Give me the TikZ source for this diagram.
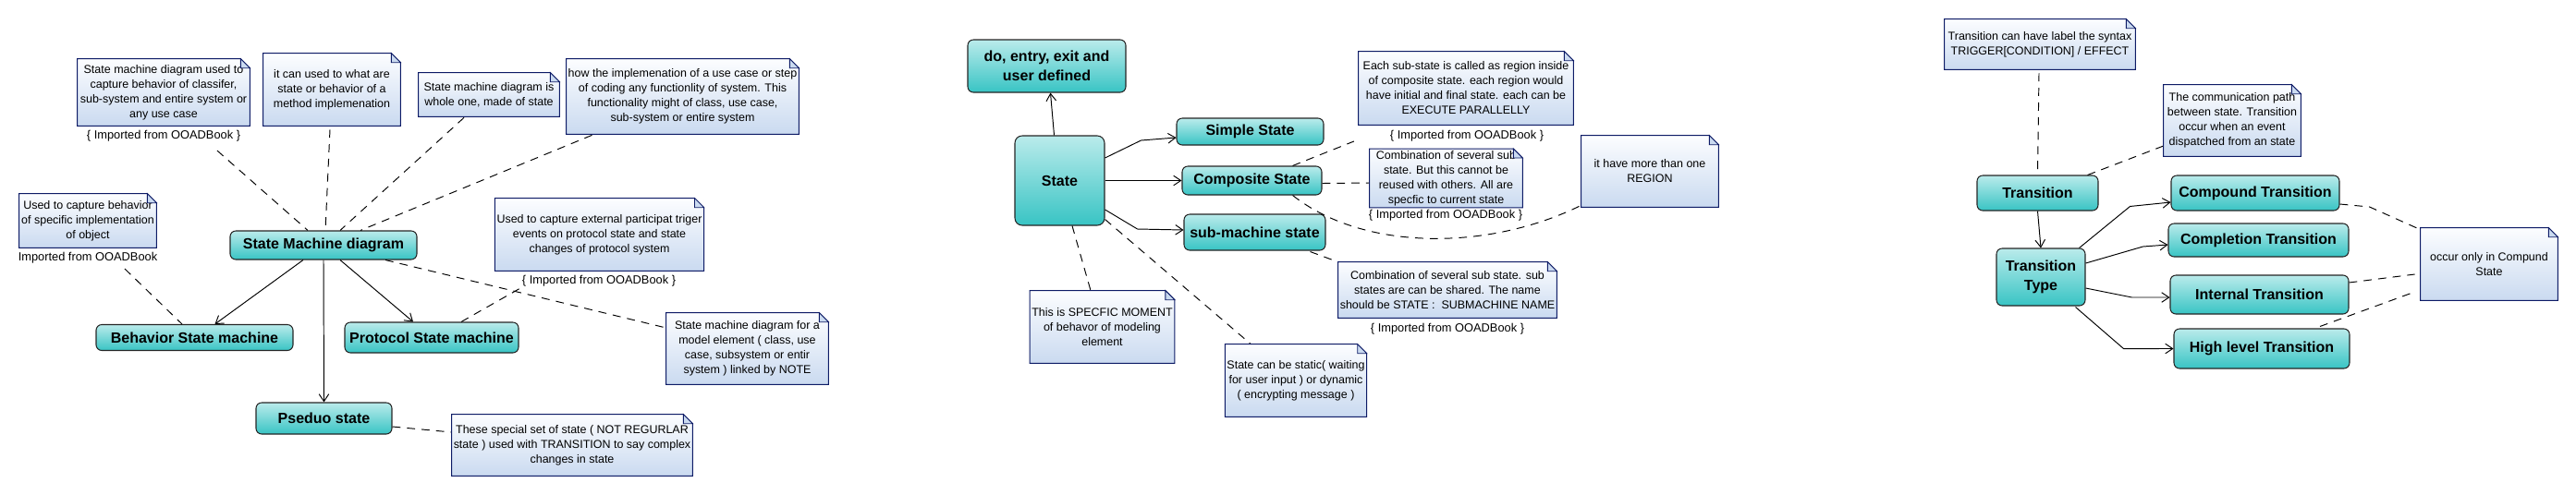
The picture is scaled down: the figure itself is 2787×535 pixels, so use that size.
\documentclass[tikz,border=0pt]{standalone}
\usepackage{fontspec}
\setmainfont{Liberation Sans}
\usetikzlibrary{arrows.meta, calc}

\definecolor{stateTop}{HTML}{BAEBEB}
\definecolor{stateBot}{HTML}{38C4C4}
\definecolor{noteTop}{HTML}{FCFDFF}
\definecolor{noteBot}{HTML}{CADAF0}
\definecolor{noteLine}{HTML}{0D1B66}

\begin{document}
\begin{tikzpicture}[x=0.02cm, y=-0.02cm,
	wh/.style 2 args={minimum width=#1*0.02cm, minimum height=#2*0.02cm},
	statebox/.style={rectangle, rounded corners=3.5pt, draw=black!85, line width=0.6pt, top color=stateTop, bottom color=stateBot, align=center, inner sep=1pt, font=\bfseries\fontsize{9.1}{12}\selectfont},
	notebox/.style={rectangle, top color=noteTop, bottom color=noteBot, align=center, inner sep=1pt, font=\fontsize{7.1}{9.1}\selectfont},
	noteedge/.style={draw=noteLine, line width=0.55pt},
	importlabel/.style={inner sep=1pt, font=\fontsize{7.3}{8.8}\selectfont},
	genarrow/.style={-{Straight Barb[length=4.5pt, width=6pt]}, line width=0.55pt},
	notelink/.style={line width=0.55pt, dash pattern=on 5pt off 4pt}]
	\useasboundingbox (0,0) rectangle (2787,535);
	
	%state machine diagram
	\node[statebox, wh={202}{31}] (smd) at (350,265.5) {State Machine diagram};
	\node[statebox, wh={213}{28}] (behav) at (210.5,365.5) {Behavior State machine};
	\node[statebox, wh={188}{33}] (proto) at (467,365.5) {Protocol State machine};
	\node[statebox, wh={147}{34}] (pseudo) at (350.5,453) {Pseduo state};
	
	\draw[genarrow] ($(smd.south)+(-22,0)$) -- ($(behav.north)+(22,0)$);
	\draw[genarrow] ($(smd.south)+(18,0)$) -- ($(proto.north)+(-20,0)$);
	\draw[genarrow] (smd.south) -- (pseudo.north);
	
	%notes round the diagram
	\node[notebox, wh={186}{72}] (n1) at (177,100) {State machine diagram used to\\capture behavior of classifer,\\sub-system and entire system or\\any use case};
	\node[importlabel] (l1) at (177,147) {\{ Imported from OOADBook \}};
	\node[notebox, wh={148}{78}] (n2) at (359,97) {it can used to what are\\state or behavior of a\\method implemenation};
	\node[notebox, wh={152}{47}] (n3) at (529,102.5) {State machine diagram is\\whole one, made of state};
	\node[notebox, wh={251}{81}] (n4) at (738.5,104.5) {how the implemenation of a use case or step\\of coding any functionlity of system. This\\functionality might of class, use case,\\sub-system or entire system};
	\node[notebox, wh={148}{58}] (n5) at (95,239) {Used to capture behavior\\of specific implementation\\of object};
	\node[importlabel] (l5) at (95,279) {Imported from OOADBook};
	\node[notebox, wh={221}{78}] (n6) at (648.5,254) {Used to capture external participat triger\\events on protocol state and state\\changes of protocol system};
	\node[importlabel] (l6) at (648,304) {\{ Imported from OOADBook \}};
	\node[notebox, wh={175}{77}] (n7) at (808.5,377.5) {State machine diagram for a\\model element ( class, use\\case, subsystem or entir\\system ) linked by NOTE};
	\node[notebox, wh={254}{66}] (n8) at (619,482) {These special set of state ( NOT REGURLAR\\state ) used with TRANSITION to say complex\\changes in state};
	
	\draw[notelink] ($(l1.south)+(58,8)$) -- ($(smd.north)+(-17,0)$);
	\draw[notelink] ($(n2.south)+(-2,4)$) -- ($(smd.north)+(2,0)$);
	\draw[notelink] ($(n3.south)+(-27,1)$) -- ($(smd.north)+(18,0)$);
	\draw[notelink] ($(n4.south)+(-98,1)$) -- ($(smd.north)+(40,0)$);
	\draw[notelink] ($(l5.south)+(40,4)$) -- ($(behav.north)+(-13.5,0)$);
	\draw[notelink] ($(smd.south)+(67,0)$) -- ($(n7.west)+(0,-22.5)$);
	\draw[notelink] ($(proto.north)+(32,0)$) -- (l6.south west);
	\draw[notelink] ($(pseudo.east)+(0,9)$) -- ($(n8.west)+(0,-14)$);
	
	%state and its kinds
	\node[statebox, wh={171}{57}] (doent) at (1132.5,71.5) {do, entry, exit and\\user defined};
	\node[statebox, wh={97}{97}, rounded corners=4.5pt] (state) at (1146.5,195.5) {State};
	\node[statebox, wh={159}{29}] (simple) at (1352.5,142.5) {Simple State};
	\node[statebox, wh={151}{31}] (comp) at (1354.5,195.5) {Composite State};
	\node[statebox, wh={153}{39}] (submach) at (1357.5,251.5) {sub-machine state};
	
	\draw[genarrow] ($(state.north)+(-6,0)$) -- ($(doent.south)+(4,0)$);
	\draw[genarrow] ($(state.east)+(0,-24.5)$) -- ++(39,-19) -- ($(simple.west)+(0,6.5)$);
	\draw[genarrow] (state.east) -- (comp.west);
	\draw[genarrow] ($(state.east)+(0,31.5)$) -- ++(35,21) -- ($(submach.west)+(0,-2.5)$);
	
	\node[notebox, wh={232}{79}] (n9) at (1586,95.5) {Each sub-state is called as region inside\\of composite state. each region would\\have initial and final state. each can be\\EXECUTE PARALLELLY};
	\node[importlabel] (l9) at (1587,147) {\{ Imported from OOADBook \}};
	\node[notebox, wh={165}{58}] (n10) at (1564.5,193) {Combination of several sub\\state. But this cannot be\\reused with others. All are\\specfic to current state};
	\node[importlabel] (l10) at (1564,233) {\{ Imported from OOADBook \}};
	\node[notebox, wh={148}{77}] (n11) at (1785,185.5) {it have more than one\\REGION};
	\node[notebox, wh={226}{60}] (n12) at (1566,314) {Combination of several sub state. sub\\states are can be shared. The name\\should be STATE :\ \ SUBMACHINE NAME};
	\node[importlabel] (l12) at (1566,356) {\{ Imported from OOADBook \}};
	\node[notebox, wh={149}{78}] (n13) at (1192.5,354) {This is SPECFIC MOMENT\\of behavor of modeling\\element};
	\node[notebox, wh={148}{78}] (n14) at (1402,412) {State can be static( waiting\\for user input ) or dynamic\\( encrypting message )};
	
	\draw[notelink] ($(comp.north east)+(-32,0)$) -- ($(l9.west)+(-37,6)$);
	\draw[notelink] ($(comp.east)+(0,3)$) -- ($(n10.west)+(0,5)$);
	\draw[notelink] ($(comp.south east)+(-32,0)$) .. controls (1475,272) and (1610,272) .. ($(n11.south west)+(0,-2)$);
	\draw[notelink] ($(submach.south east)+(-17,1)$) -- (n12.north west);
	\draw[notelink] ($(state.south)+(13.5,0)$) -- ($(n13.north)+(-12.5,0)$);
	\draw[notelink] ($(state.south east)+(0,-7)$) -- ($(n14.north west)+(28,0)$);
	
	%transitions
	\node[notebox, wh={206}{54}] (n15) at (2207,48) {Transition can have label the syntax\\TRIGGER[CONDITION] / EFFECT};
	\node[statebox, wh={131}{38}] (transition) at (2204.5,209) {Transition};
	\node[notebox, wh={148}{77}] (n16) at (2415,130.5) {The communication path\\between state. Transition\\occur when an event\\dispatched from an state};
	\node[statebox, wh={96}{62}] (ttype) at (2208,300) {Transition\\Type};
	\node[statebox, wh={182}{38}] (compound) at (2440,209) {Compound Transition};
	\node[statebox, wh={195}{36}] (completion) at (2443.5,260) {Completion Transition};
	\node[statebox, wh={193}{42}] (internal) at (2444.5,319) {Internal Transition};
	\node[statebox, wh={190}{43}] (highlevel) at (2447,377.5) {High level Transition};
	\node[notebox, wh={148}{78}] (n17) at (2693,286) {occur only in Compund\\State};
	
	\draw[notelink] ($(n15.south)+(-1,4)$) -- (transition.north);
	\draw[notelink] ($(transition.north east)+(-12,0)$) -- ($(n16.west)+(0,27.5)$);
	\draw[genarrow] (transition.south) -- (ttype.north);
	\draw[genarrow] ($(ttype.north east)+(-7,0)$) -- ++(55,-45) -- ($(compound.west)+(0,10)$);
	\draw[genarrow] ($(ttype.east)+(0,-15)$) -- ++(62,-18) -- ($(completion.west)+(0,5)$);
	\draw[genarrow] ($(ttype.east)+(0,12)$) -- ++(50,10) -- ($(internal.west)+(0,3)$);
	\draw[genarrow] ($(ttype.south east)+(-11,1)$) -- ++(52,45) -- (highlevel.west);
	\draw[notelink] ($(compound.east)+(0,12)$) -- ++(32,3) -- ($(n17.north west)+(0,2)$);
	\draw[notelink] ($(internal.east)+(0,-13)$) -- ($(n17.west)+(-6,11)$);
	\draw[notelink] ($(highlevel.north)+(63,-2)$) -- ($(n17.west)+(-6,30)$);
	
	%note outlines with folded corner
	\foreach \i in {1,...,17}{
		\fill[white] ([xshift=-0.2cm]n\i.north east) -- (n\i.north east) -- ([yshift=-0.2cm]n\i.north east) -- cycle;
		\draw[noteedge] (n\i.north west) -- ([xshift=-0.2cm]n\i.north east) -- ([yshift=-0.2cm]n\i.north east) -- (n\i.south east) -- (n\i.south west) -- cycle;
		\draw[noteedge, line width=0.45pt, fill=noteBot] ([xshift=-0.2cm]n\i.north east) |- ([yshift=-0.2cm]n\i.north east) -- cycle;
	}
	
\end{tikzpicture}
\end{document}
